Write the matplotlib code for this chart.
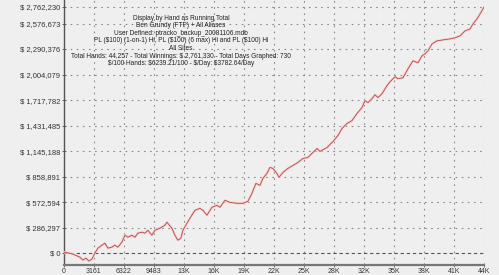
import matplotlib
matplotlib.use("Agg")
import matplotlib.pyplot as plt
from matplotlib import rcParams

rcParams['font.family'] = ['Liberation Sans', 'DejaVu Sans']
rcParams['font.size'] = 5.5
rcParams['text.parse_math'] = False

# running total (hands, $)
hands = [0, 105, 948, 1686, 2002, 2318, 2634, 2950, 3266, 3583, 4004,
         4320, 4636, 5058, 5374, 5690, 6111, 6428, 6744, 7165, 7481,
         7797, 8219, 8535, 8851, 9273, 9589, 10116, 10642, 10853, 11380,
         11696, 12012, 12328, 12539, 12961, 13277, 13803, 14330, 14646, 15068,
         15595, 16122, 16438, 16965, 17491, 18229, 18861, 19388, 19810, 20231,
         20653, 20969, 21390, 21706, 22022, 22444, 22655, 23076, 23603, 24130,
         24657, 25183, 25710, 26448, 26659, 26975, 27712, 28345, 28871, 29293,
         29820, 30347, 30873, 31400, 31716, 32032, 32454, 32770, 33086, 33508,
         34035, 34351, 34877, 35194, 35720, 36247, 36774, 37301, 37722, 38039,
         38355, 38776, 39303, 39935, 40673, 41200, 41727, 42253, 42780, 43096,
         43518, 43834, 44257]
winnings_k = [0, 11, -11, -45, -78, -56, -89, -67, 0, 56, 89,
              112, 56, 67, 89, 67, 123, 201, 179, 201, 179,
              224, 235, 224, 257, 201, 257, 280, 313, 347, 280,
              201, 145, 168, 257, 335, 391, 481, 503, 481, 425,
              514, 537, 514, 593, 570, 559, 559, 582, 671, 783,
              760, 839, 895, 962, 951, 895, 850, 906, 951, 984,
              1018, 1062, 1074, 1152, 1174, 1141, 1185, 1252, 1320, 1398,
              1454, 1487, 1566, 1633, 1711, 1689, 1733, 1778, 1745, 1789,
              1879, 1923, 1979, 1957, 1968, 2069, 2158, 2136, 2214, 2237,
              2270, 2348, 2382, 2393, 2404, 2416, 2438, 2494, 2516, 2572,
              2628, 2684, 2761.33]

y_ticks = [0, 286297, 572594, 858891, 1145188, 1431485, 1717782,
           2004079, 2290376, 2576673, 2762230]
x_ticks = [0, 3161, 6322, 9483, 12644, 15805, 18966, 22127, 25288,
           28449, 31610, 34771, 37932, 41093, 44254]
x_labels = ['0', '3161', '6322', '9483', '13K', '16K', '19K', '22K', '25K',
            '28K', '32K', '35K', '38K', '41K', '44K']

info = ["Display by Hand as Running Total",
        "Ben Grundy (FTP) + All Aliases",
        "User Defined: ptracko_backup_20081106.mdb",
        "PL ($100) (1-on-1) Hi, PL ($100) (6 max) Hi and PL ($100) Hi",
        "All Sites",
        "Total Hands: 44,257 - Total Winnings: $ 2,761,330 - Total Days Graphed: 730",
        "$/100 Hands: $6239.21/100 - $/Day: $3782.64/Day"]

bg = '#efefef'
fig = plt.figure(figsize=(4.99, 2.75), dpi=100, facecolor=bg)
ax = fig.add_axes([0.128, 0.036, 0.842, 0.964], facecolor=bg)

winnings = [w * 1000 for w in winnings_k]
ax.plot(hands, winnings, color='#f6cccc', lw=1.6, solid_joinstyle='round', zorder=3)
ax.plot(hands, winnings, color='#b84848', lw=0.6, zorder=4)

ax.set_xlim(0, 44257)
ax.set_ylim(-134200, 2840500)

ax.set_yticks(y_ticks)
ax.set_yticklabels(['$ 0'] + ['$ {:,}'.format(v) for v in y_ticks[1:]])
ax.set_xticks(x_ticks)
ax.set_xticklabels(x_labels)
ax.tick_params(axis='both', direction='inout', length=3, width=0.6,
               color='#555555', labelcolor='#333333', pad=1.0)
ax.tick_params(axis='x', labelsize=5.0, pad=0.5)

for v in y_ticks[1:]:
    ax.axhline(v, color='#8a8a8a', lw=0.8, ls=(0, (1.5, 4)), zorder=1)
for v in x_ticks[1:]:
    ax.axvline(v, color='#8a8a8a', lw=0.8, ls=(0, (1.5, 4)), zorder=1)
ax.axhline(0, color='#555555', lw=0.8, ls=(0, (3, 2.5)), zorder=2)

for s in ['top', 'right']:
    ax.spines[s].set_visible(False)
ax.spines['left'].set_color('#555555')
ax.spines['left'].set_linewidth(1.0)
ax.spines['bottom'].set_color('#777777')
ax.spines['bottom'].set_linewidth(1.6)

ax.text(0.279, 0.945, "\n".join(info), transform=ax.transAxes, ha='center',
        va='top', fontsize=4.7, color='#222222', linespacing=1.12, zorder=5)

fig.savefig('out.png', dpi=100, facecolor=bg)
